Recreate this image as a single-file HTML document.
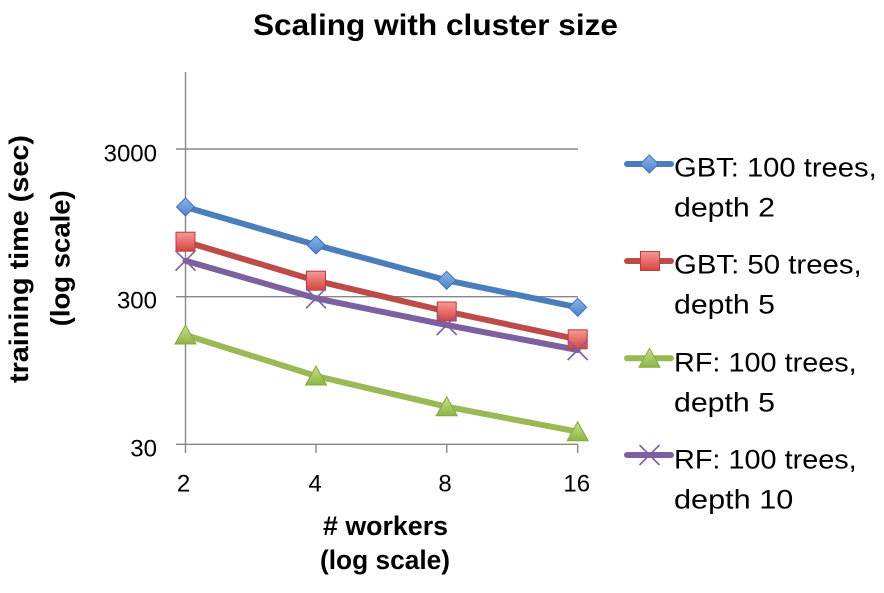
<!DOCTYPE html>
<html><head><meta charset="utf-8"><style>
html,body{margin:0;padding:0;background:#fff;}
svg{display:block;}
text{font-family:"Liberation Sans",sans-serif;fill:#000;}
</style></head><body>
<svg width="884" height="593" viewBox="0 0 884 593" xmlns="http://www.w3.org/2000/svg">
<defs>
<linearGradient id="gb" x1="0" y1="0" x2="0" y2="1"><stop offset="0" stop-color="#8DB6EC"/><stop offset="1" stop-color="#4C81C9"/></linearGradient>
<linearGradient id="gr" x1="0" y1="0" x2="0" y2="1"><stop offset="0" stop-color="#F49A98"/><stop offset="1" stop-color="#D9433F"/></linearGradient>
<linearGradient id="gg" x1="0" y1="0" x2="0" y2="1"><stop offset="0" stop-color="#C8E08A"/><stop offset="1" stop-color="#8DB545"/></linearGradient>
<g id="dia"><polygon points="0,-9 9,0 0,9 -9,0" fill="url(#gb)" stroke="#3F70B3" stroke-width="1"/></g>
<g id="sq"><rect x="-9.5" y="-9.5" width="19" height="19" fill="url(#gr)" stroke="#B3403D" stroke-width="1"/></g>
<g id="tri"><polygon points="0,-10 10.5,9 -10.5,9" fill="url(#gg)" stroke="#86A845" stroke-width="1"/></g>
<g id="xx"><path d="M-10,-10 L10,10 M-10,10 L10,-10" stroke="#7D60A0" stroke-width="1.6" fill="none"/></g>
</defs>

<!-- title -->
<text x="435.5" y="35" font-size="30" font-weight="bold" text-anchor="middle" textLength="365" lengthAdjust="spacingAndGlyphs">Scaling with cluster size</text>

<!-- gridlines -->
<g stroke="#878787" stroke-width="1.4" fill="none">
<line x1="176" y1="149" x2="578" y2="149"/>
<line x1="176" y1="296.7" x2="578" y2="296.7"/>
<line x1="176" y1="444.3" x2="578" y2="444.3"/>
<line x1="185.5" y1="72" x2="185.5" y2="444.3"/>
<line x1="185.5" y1="444.3" x2="185.5" y2="453"/>
<line x1="316" y1="444.3" x2="316" y2="453"/>
<line x1="446.7" y1="444.3" x2="446.7" y2="453"/>
<line x1="577.7" y1="444.3" x2="577.7" y2="453"/>
</g>

<!-- y tick labels -->
<g font-size="24" text-anchor="end">
<text x="157" y="161.7">3000</text>
<text x="157" y="308.3">300</text>
<text x="157" y="456.7">30</text>
</g>
<!-- x tick labels -->
<g font-size="24" text-anchor="middle">
<text x="183.5" y="491.7">2</text>
<text x="315" y="491.7">4</text>
<text x="445" y="491.7">8</text>
<text x="576.7" y="491.7">16</text>
</g>

<!-- axis titles -->
<g font-size="27" font-weight="bold" text-anchor="middle">
<text x="385.5" y="535" textLength="125" lengthAdjust="spacingAndGlyphs">#&#160;workers</text>
<text x="385" y="569" textLength="130" lengthAdjust="spacingAndGlyphs">(log scale)</text>
</g>
<g font-size="27" font-weight="bold" text-anchor="middle">
<text transform="translate(28,259) rotate(-90)" textLength="248" lengthAdjust="spacingAndGlyphs">training time (sec)</text>
<text transform="translate(69.5,258.3) rotate(-90)" textLength="136" lengthAdjust="spacingAndGlyphs">(log scale)</text>
</g>

<!-- series lines -->
<g fill="none" stroke-width="6" stroke-linejoin="round" stroke-linecap="round">
<polyline stroke="#4A7EBB" points="185.5,207 316,245 446.7,280.3 577.7,307.3"/>
<polyline stroke="#BE4B48" points="185.5,241.7 316,280.7 446.7,311.5 577.7,339.3"/>
<polyline stroke="#98B954" points="185.5,335 316,376 446.7,406.7 577.7,431.7"/>
<polyline stroke="#7D60A0" points="185.5,260.7 316,298.3 446.7,325 577.7,350"/>
</g>
<!-- markers -->
<use href="#dia" x="185.5" y="207"/><use href="#dia" x="316" y="245"/><use href="#dia" x="446.7" y="280.3"/><use href="#dia" x="577.7" y="307.3"/>
<use href="#sq" x="185.5" y="241.7"/><use href="#sq" x="316" y="280.7"/><use href="#sq" x="446.7" y="311.5"/><use href="#sq" x="577.7" y="339.3"/>
<use href="#tri" x="185.5" y="335"/><use href="#tri" x="316" y="376"/><use href="#tri" x="446.7" y="406.7"/><use href="#tri" x="577.7" y="431.7"/>
<use href="#xx" x="185.5" y="260.7"/><use href="#xx" x="316" y="298.3"/><use href="#xx" x="446.7" y="325"/><use href="#xx" x="577.7" y="350"/>

<!-- legend -->
<g stroke-width="6" stroke-linecap="round">
<line x1="627" y1="164" x2="671" y2="164" stroke="#4A7EBB"/>
<line x1="627" y1="261" x2="671" y2="261" stroke="#BE4B48"/>
<line x1="627" y1="358.3" x2="671" y2="358.3" stroke="#98B954"/>
<line x1="627" y1="455" x2="671" y2="455" stroke="#7D60A0"/>
</g>
<use href="#dia" x="649.3" y="164"/>
<use href="#sq" x="650" y="261"/>
<use href="#tri" x="649.5" y="358.3"/>
<use href="#xx" x="649.5" y="455"/>
<g font-size="27">
<text x="674" y="176.7" textLength="202.7" lengthAdjust="spacingAndGlyphs">GBT: 100 trees,</text>
<text x="674" y="216.7" textLength="101" lengthAdjust="spacingAndGlyphs">depth 2</text>
<text x="674" y="273.3" textLength="187.7" lengthAdjust="spacingAndGlyphs">GBT: 50 trees,</text>
<text x="674" y="313.3" textLength="101" lengthAdjust="spacingAndGlyphs">depth 5</text>
<text x="674" y="371.7" textLength="182.7" lengthAdjust="spacingAndGlyphs">RF: 100 trees,</text>
<text x="674" y="411.7" textLength="101" lengthAdjust="spacingAndGlyphs">depth 5</text>
<text x="674" y="468.3" textLength="182.7" lengthAdjust="spacingAndGlyphs">RF: 100 trees,</text>
<text x="674" y="508.3" textLength="119.3" lengthAdjust="spacingAndGlyphs">depth 10</text>
</g>
</svg>
</body></html>
